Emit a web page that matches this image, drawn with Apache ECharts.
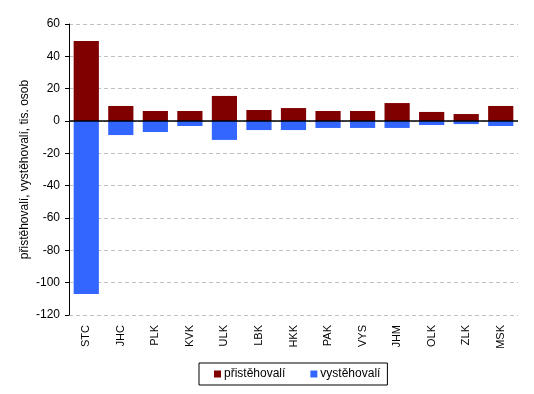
<!DOCTYPE html>
<html><head><meta charset="utf-8">
<script src="https://cdn.jsdelivr.net/npm/echarts@6/dist/echarts.min.js"></script>
<style>html,body{margin:0;padding:0;background:#fff}#c{width:534px;height:394px}</style>
</head><body><div id="c"></div>
<script>
var categories = ['STC','JHC','PLK','KVK','ULK','LBK','HKK','PAK','VYS','JHM','OLK','ZLK','MSK'];
var pristehovali = [49.5, 9.3, 6.2, 6.2, 15.5, 6.8, 8.0, 6.2, 6.2, 11.1, 5.6, 4.3, 9.3];
var vystehovali = [-107, -8.7, -6.8, -3.1, -11.7, -5.6, -5.6, -4.3, -4.3, -4.3, -2.5, -1.9, -3.1];
var yTicks = [-120, -100, -80, -60, -40, -20, 0, 20, 40, 60];
var ff = 'Liberation Sans, Arial, sans-serif';
var chart = echarts.init(document.getElementById('c'), null, {renderer:'canvas'});
chart.setOption({
  animation: false,
  textStyle: {fontFamily: ff},
  grid: {left: 69, right: 16, top: 24, bottom: 79},
  legend: {
    top: 363, left: 199,
    data: ['přistěhovalí', 'vystěhovalí'],
    itemWidth: 7, itemHeight: 7, itemGap: 25, icon: 'rect',
    borderColor: '#000', borderWidth: 1, padding: [5, 7, 5, 15], borderRadius: 0,
    textStyle: {fontFamily: ff, fontSize: 12, color: '#000', padding: [0,0,0,-2]}
  },
  xAxis: {
    type: 'category', data: categories,
    axisLine: {show: false},
    axisTick: {show: false},
    axisLabel: {rotate: 90, fontSize: 11, color: '#000', fontFamily: ff, margin: 10}
  },
  yAxis: {
    type: 'value', min: yTicks[0], max: yTicks[yTicks.length-1], interval: 20,
    name: 'přistěhovalí, vystěhovalí, tis. osob', nameLocation: 'middle', nameGap: 38,
    nameMoveOverlap: false,
    nameTextStyle: {fontSize: 12, color: '#000', fontFamily: ff},
    axisLine: {show: true, lineStyle: {color: '#000', width: 1}},
    axisTick: {show: true, inside: false, length: 4, lineStyle: {color: '#000'}},
    axisLabel: {fontSize: 12, color: '#000', fontFamily: ff, margin: 9},
    splitLine: {show: true, lineStyle: {color: '#c0c0c0', type: [4, 3], width: 1}}
  },
  series: [
    {name: 'přistěhovalí', type: 'bar', stack: 'a', data: pristehovali,
     itemStyle: {color: '#800000'}, barCategoryGap: '27%',
     markLine: {silent: true, symbol: 'none', label: {show: false},
       lineStyle: {color: '#000', type: 'solid', width: 1.5}, data: [{yAxis: 0}]}},
    {name: 'vystěhovalí', type: 'bar', stack: 'a', data: vystehovali,
     itemStyle: {color: '#3366ff'}, barCategoryGap: '27%'}
  ]
});
</script></body></html>
